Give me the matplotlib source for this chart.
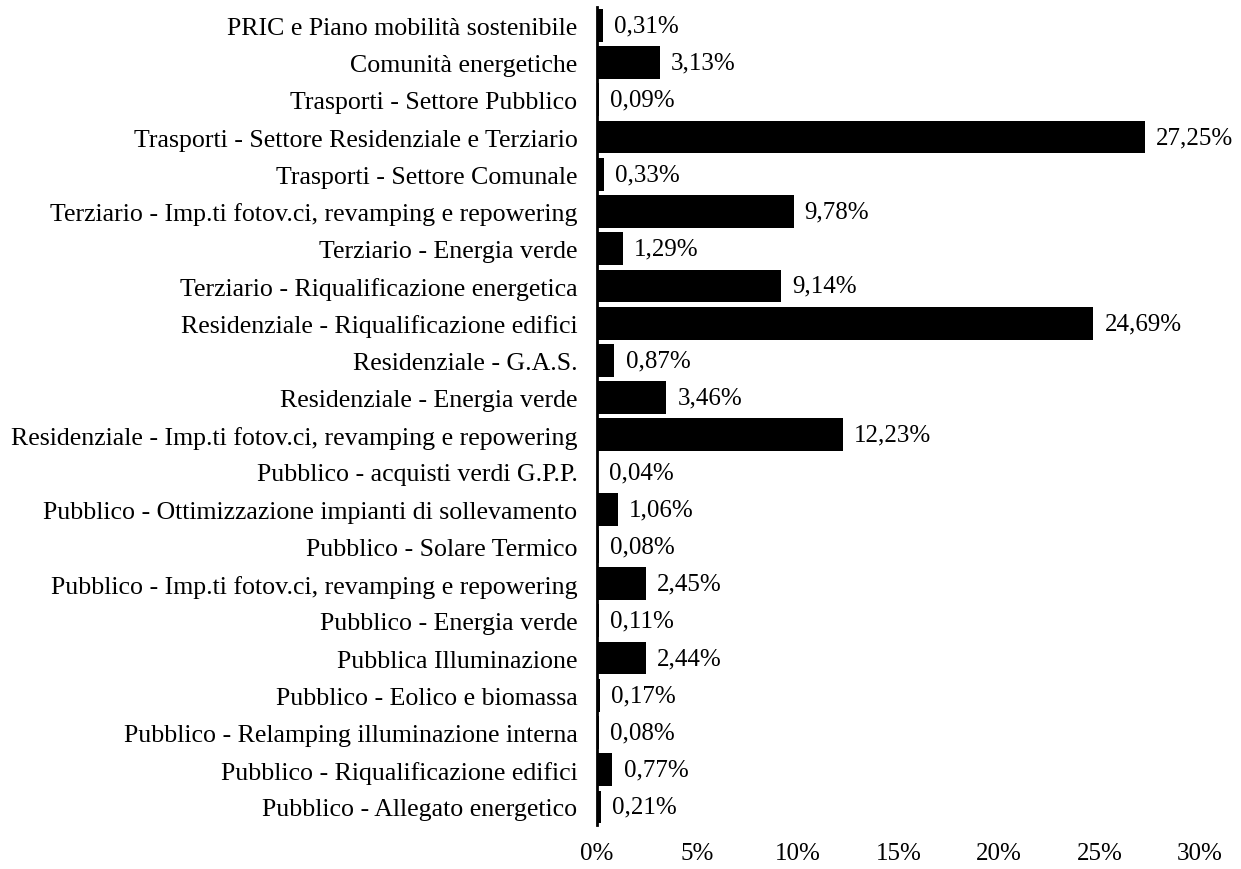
"""
Horizontal bar chart: share of each PAESC action.
"""

import matplotlib
matplotlib.use("Agg")
import matplotlib.pyplot as plt
from matplotlib.ticker import FuncFormatter

categories = [
    "PRIC e Piano mobilità sostenibile",
    "Comunità energetiche",
    "Trasporti - Settore Pubblico",
    "Trasporti - Settore Residenziale e Terziario",
    "Trasporti - Settore Comunale",
    "Terziario - Imp.ti fotov.ci, revamping e repowering",
    "Terziario - Energia verde",
    "Terziario - Riqualificazione energetica",
    "Residenziale - Riqualificazione edifici",
    "Residenziale - G.A.S.",
    "Residenziale - Energia verde",
    "Residenziale - Imp.ti fotov.ci, revamping e repowering",
    "Pubblico - acquisti verdi G.P.P.",
    "Pubblico - Ottimizzazione impianti di sollevamento",
    "Pubblico - Solare Termico",
    "Pubblico - Imp.ti fotov.ci, revamping e repowering",
    "Pubblico - Energia verde",
    "Pubblica Illuminazione",
    "Pubblico - Eolico e biomassa",
    "Pubblico - Relamping illuminazione interna",
    "Pubblico - Riqualificazione edifici",
    "Pubblico - Allegato energetico",
]
values = [0.31, 3.13, 0.09, 27.25, 0.33, 9.78, 1.29, 9.14, 24.69, 0.87, 3.46,
          12.23, 0.04, 1.06, 0.08, 2.45, 0.11, 2.44, 0.17, 0.08, 0.77, 0.21]
xticks = [0, 5, 10, 15, 20, 25, 30]

plt.rcParams["font.family"] = ["Liberation Serif", "DejaVu Serif"]

fig = plt.figure(figsize=(12.41, 8.7), dpi=100)
ax = fig.add_axes([0.481, 0.05, 0.486, 0.941])

pos = list(range(len(categories)))
ax.barh(pos, values, height=0.88, color="black")
ax.set_ylim(len(categories) - 0.5, -0.5)
ax.set_xlim(0, 30)
ax.set_yticks(pos)
ax.set_yticklabels(categories, fontsize=18.6)
ax.set_xticks(xticks)
ax.xaxis.set_major_formatter(FuncFormatter(lambda v, _: "%d%%" % v))
ax.tick_params(axis="y", length=0, pad=14)
ax.tick_params(axis="x", length=0, pad=12, labelsize=18)

for y, v in zip(pos, values):
    ax.annotate(("%.2f%%" % v).replace(".", ","), (v, y),
                xytext=(8, 0), textcoords="offset points",
                va="center", ha="left", fontsize=18)

for side in ("top", "right", "bottom"):
    ax.spines[side].set_visible(False)
ax.spines["left"].set_linewidth(2)

fig.savefig("out.png")
